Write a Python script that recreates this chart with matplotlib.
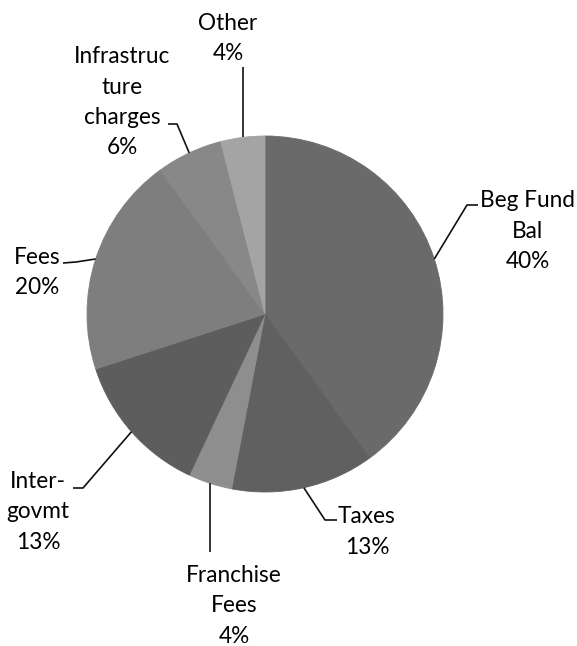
import numpy as np
import matplotlib
matplotlib.use("Agg")
import matplotlib.pyplot as plt

# Revenue sources, clockwise from 12 o'clock
categories = ["Beg Fund\nBal", "Taxes", "Franchise\nFees", "Inter-\ngovmt",
              "Fees", "Infrastruc\nture\ncharges", "Other"]
shares = [40, 13, 4, 13, 20, 6, 4]
colors = ["#6a6a6a", "#606060", "#8e8e8e", "#5d5d5d", "#7e7e7e", "#888888", "#a4a4a4"]

W, H = 577, 646
CX, CY, R = 265, H - 314, 178

# label layout: (x centre, first baseline from top, elbow points from top)
layout = [
    (528, 207, [(467, 205), (478, 205)]),
    (367, 523, [(325, 520), (337, 520)]),
    (234, 582, [(None, 552)]),
    (38, 488, [(83, 488), (73, 488)]),
    (37, 264, [(76, 262), (63, 263)]),
    (122, 63, [(177, 124), (168, 124)]),
    (228, 30, [(None, 67)]),
]
LINE_STEP = 30.5

plt.rcParams["font.family"] = ["Lato", "DejaVu Sans"]
fig = plt.figure(figsize=(W / 100, H / 100), dpi=100)
ax = fig.add_axes([0, 0, 1, 1])

wedges, _ = ax.pie(shares, colors=colors, startangle=90, counterclock=False,
                   radius=R, center=(CX, CY), wedgeprops=dict(linewidth=0.6))
for w, c in zip(wedges, colors):
    w.set_edgecolor(c)
ax.set_xlim(0, W)
ax.set_ylim(0, H)
ax.set_aspect("equal")
ax.axis("off")

for w, name, share, (tx, ty, elbows) in zip(wedges, categories, shares, layout):
    mid = np.deg2rad((w.theta1 + w.theta2) / 2)
    ex, ey = CX + R * np.cos(mid), CY + R * np.sin(mid)
    xs, ys = [ex], [ey]
    for px, py in elbows:
        xs.append(ex if px is None else px)
        ys.append(H - py)
    ax.plot(xs, ys, color="#111111", lw=1.2, solid_capstyle="butt")
    lines = name.split("\n") + [f"{share}%"]
    for i, line in enumerate(lines):
        ax.text(tx, H - (ty + i * LINE_STEP), line, ha="center", va="baseline",
                fontsize=16.3, color="#000000")

fig.savefig("out.png", dpi=100)
